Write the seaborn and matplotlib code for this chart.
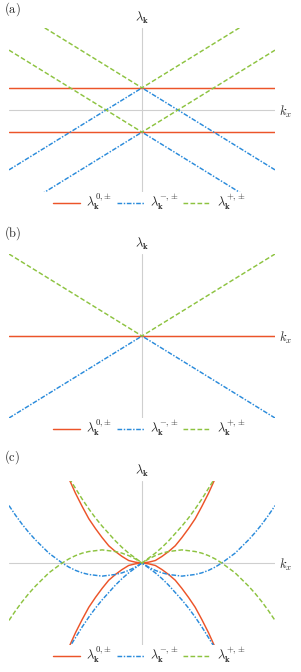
import numpy as np
import pandas as pd
import seaborn as sns
import matplotlib.pyplot as plt
from matplotlib.lines import Line2D

sns.set_style("white")
plt.rcParams["mathtext.fontset"] = "cm"
plt.rcParams["font.family"] = ["DejaVu Serif"]

# -- data (y in units of the half height of each panel) --
k_lin = [-1.0, 0.0, 1.0]

# panel (a) : gapped cones
a_zero_up = [0.27, 0.27, 0.27]
a_zero_dn = [-0.27, -0.27, -0.27]
a_minus_up = [-0.73, 0.27, -0.73]
a_minus_dn = [-1.27, -0.27, -1.27]
a_plus_up = [1.27, 0.27, 1.27]
a_plus_dn = [0.73, -0.27, 0.73]

# panel (b) : gapless cones
b_zero = [0.0, 0.0, 0.0]
b_minus = [-1.0, 0.0, -1.0]
b_plus = [1.0, 0.0, 1.0]

# panel (c) : quadratic branches
k_in = [-0.6, -0.55, -0.5, -0.45, -0.4, -0.35, -0.3, -0.25, -0.2, -0.15, -0.1, -0.05,
        0.0, 0.05, 0.1, 0.15, 0.2, 0.25, 0.3, 0.35, 0.4, 0.45, 0.5, 0.55, 0.6]
c_zero_up = [1.22, 1.03, 0.85, 0.69, 0.54, 0.42, 0.31, 0.21, 0.14, 0.08, 0.03, 0.01,
             0.0, 0.01, 0.03, 0.08, 0.14, 0.21, 0.31, 0.42, 0.54, 0.69, 0.85, 1.03, 1.22]
c_zero_dn = [-v for v in c_zero_up]
c_plus_up = [1.18, 1.04, 0.91, 0.78, 0.66, 0.55, 0.45, 0.36, 0.27, 0.19, 0.12, 0.06,
             0.0, 0.06, 0.12, 0.19, 0.27, 0.36, 0.45, 0.55, 0.66, 0.78, 0.91, 1.04, 1.18]
c_minus_dn = [-v for v in c_plus_up]

k_full = [-1.0, -0.95, -0.9, -0.85, -0.8, -0.75, -0.7, -0.65, -0.6, -0.55, -0.5, -0.45, -0.4,
          -0.35, -0.3, -0.25, -0.2, -0.15, -0.1, -0.05, 0.0, 0.05, 0.1, 0.15, 0.2, 0.25, 0.3,
          0.35, 0.4, 0.45, 0.5, 0.55, 0.6, 0.65, 0.7, 0.75, 0.8, 0.85, 0.9, 0.95, 1.0]
c_plus_hump = [-0.70, -0.58, -0.47, -0.37, -0.28, -0.20, -0.12, -0.06, 0.00, 0.05, 0.09,
               0.12, 0.14, 0.15, 0.16, 0.15, 0.14, 0.12, 0.09, 0.05, 0.00, 0.05, 0.09, 0.12,
               0.14, 0.15, 0.16, 0.15, 0.14, 0.12, 0.09, 0.05, 0.00, -0.06, -0.12, -0.20,
               -0.28, -0.37, -0.47, -0.58, -0.70]
c_minus_dip = [-v for v in c_plus_hump]

branches = ["zero", "minus", "plus"]
labels = [r"$\lambda_{\mathbf{k}}^{0,\!\pm}$", r"$\lambda_{\mathbf{k}}^{-,\!\pm}$",
          r"$\lambda_{\mathbf{k}}^{+,\!\pm}$"]
palette = {"zero": "#EC5429", "minus": "#2A8BDB", "plus": "#8DC340"}
dashes = {"zero": "", "minus": (3.2, 1.1, 1.0, 1.1), "plus": (3.2, 1.6)}


def frame(curves):
    rows = []
    for i, (br, xs, ys) in enumerate(curves):
        rows.append(pd.DataFrame({"k": xs, "lam": ys, "branch": br, "curve": i}))
    return pd.concat(rows, ignore_index=True)


panels = [
    ("(a)", frame([("zero", k_lin, a_zero_up), ("zero", k_lin, a_zero_dn),
                   ("minus", k_lin, a_minus_up), ("minus", k_lin, a_minus_dn),
                   ("plus", k_lin, a_plus_up), ("plus", k_lin, a_plus_dn)])),
    ("(b)", frame([("zero", k_lin, b_zero), ("minus", k_lin, b_minus),
                   ("plus", k_lin, b_plus)])),
    ("(c)", frame([("zero", k_in, c_zero_up), ("zero", k_in, c_zero_dn),
                   ("minus", k_in, c_minus_dn), ("minus", k_full, c_minus_dip),
                   ("plus", k_in, c_plus_up), ("plus", k_full, c_plus_hump)])),
]

W, H = 301, 672
fig = plt.figure(figsize=(W / 100, H / 100), dpi=100)
tops = [28, 254, 481]  # pixel top of each axes box
offsets = [0, 224, 448]  # pixel top of each panel

for (tag, df), top, off in zip(panels, tops, offsets):
    ax = fig.add_axes([9 / W, 1 - (top + 164) / H, 266 / W, 164 / H])
    ax.plot([-1, 1], [0, 0], color="#cfcfcf", lw=0.8, zorder=0)
    ax.plot([0, 0], [-1, 1], color="#cfcfcf", lw=0.8, zorder=0)
    sns.lineplot(data=df, x="k", y="lam", hue="branch", style="branch", units="curve",
                 estimator=None, palette=palette, dashes=dashes, hue_order=branches,
                 style_order=branches, lw=1.05, legend=False, ax=ax)
    ax.set_xlim(-1, 1)
    ax.set_ylim(-1, 1)
    ax.set_axis_off()

    fig.text(4 / W, 1 - (off + 9) / H, r"$\mathrm{" + tag + "}$", fontsize=9,
             ha="left", va="center")
    fig.text(142 / W, 1 - (top - 10) / H, r"$\lambda_{\mathbf{k}}$", fontsize=9,
             ha="center", va="center")
    fig.text(279 / W, 1 - (top + 84) / H, r"$k_x$", fontsize=9, ha="left", va="center")

    handles = [Line2D([], [], color=palette[b], lw=1.05,
                      dashes=dashes[b] if dashes[b] else (None, None)) for b in branches]
    fig.legend(handles, labels, loc="center", ncol=3, frameon=False, fontsize=9,
               handlelength=2.2, handletextpad=0.5, columnspacing=0.35,
               bbox_to_anchor=(149 / W, 1 - (top + 174) / H))

fig.savefig("out.png", dpi=100)
